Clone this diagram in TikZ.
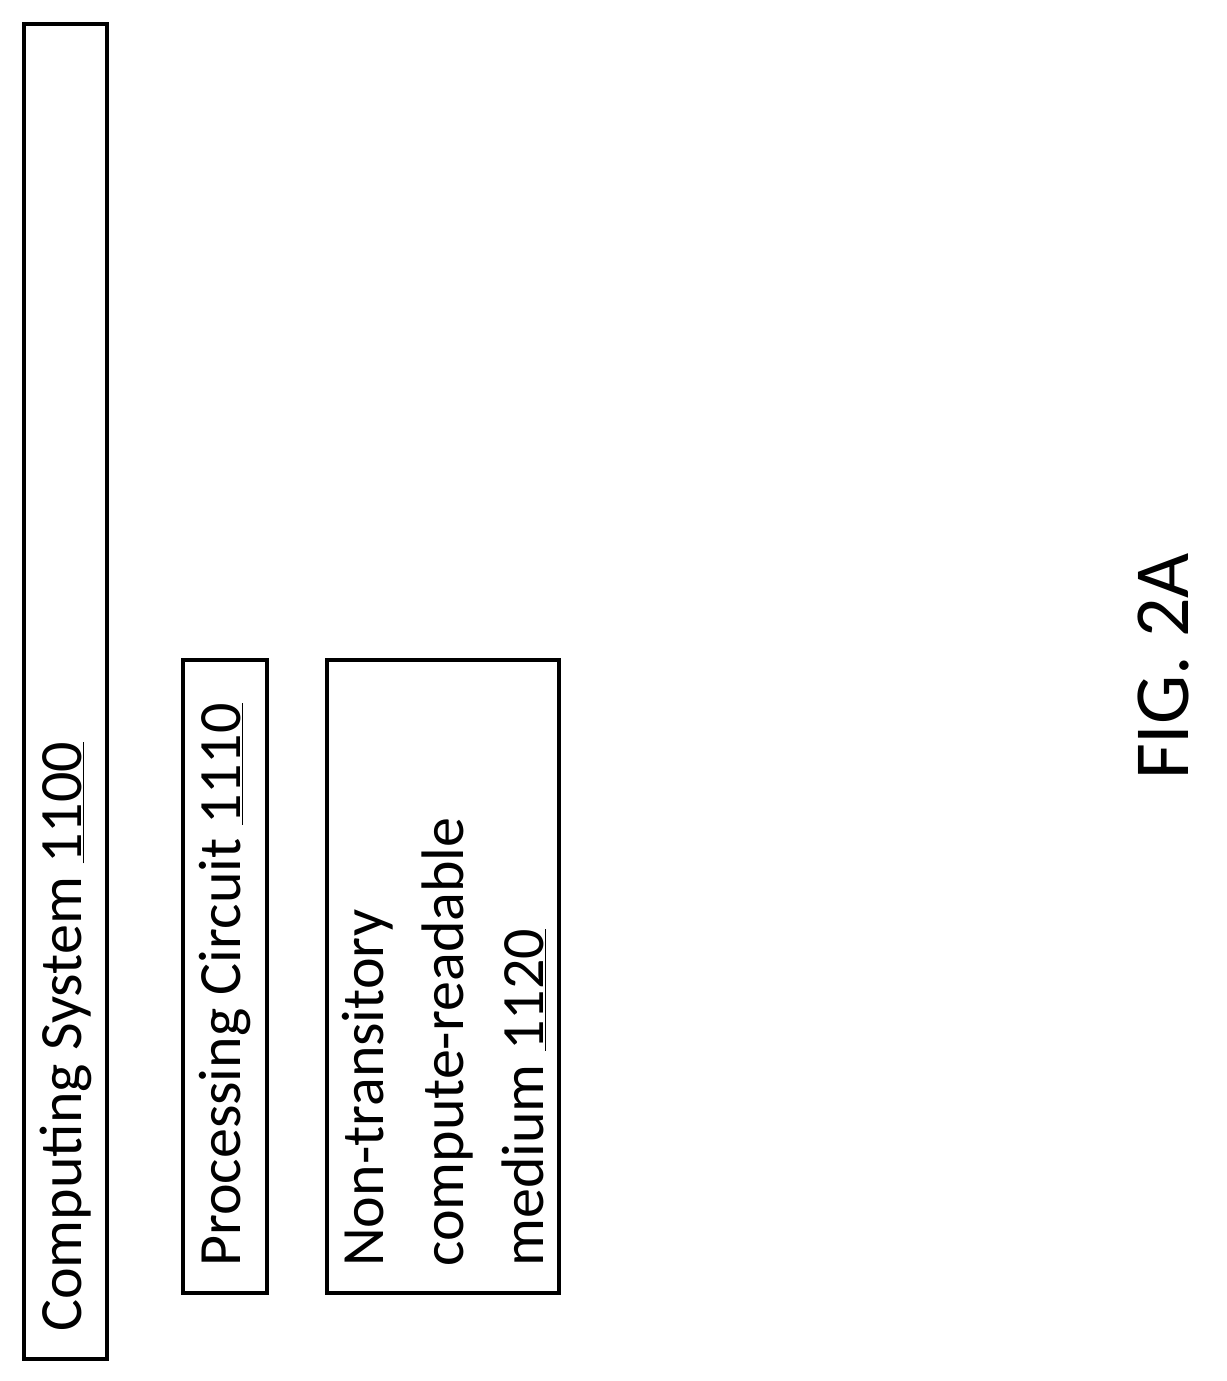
\documentclass[tikz,border=0pt]{standalone}
\usepackage{fontspec}
\setmainfont{Carlito}
\begin{document}
\begin{tikzpicture}[x=1pt,y=-1pt,
  box/.style={draw,line width=3.5pt},
  lbl/.style={rotate=90,inner sep=0pt,font=\fontsize{60}{80}\selectfont}]
\useasboundingbox (0,0) rectangle (1226,1381);
\draw[box] (24,24) rectangle (107,1359);
\draw[box] (183,660) rectangle (267,1293);
\draw[box] (327,660) rectangle (559,1293);
\node[lbl,anchor=north west] (t1) at (40,1332) {Computing System \underline{1100}};
\node[lbl,anchor=north west] (t2) at (199,1267) {Processing Circuit \underline{1110}};
\node[lbl,anchor=north west,align=left] (t3) at (342,1267) {Non-transitory\\compute-readable\\medium \underline{1120}};
\node[lbl,anchor=north west,font=\fontsize{78}{90}\selectfont] (f) at (1138,780) {FIG. 2A};
\end{tikzpicture}
\end{document}
